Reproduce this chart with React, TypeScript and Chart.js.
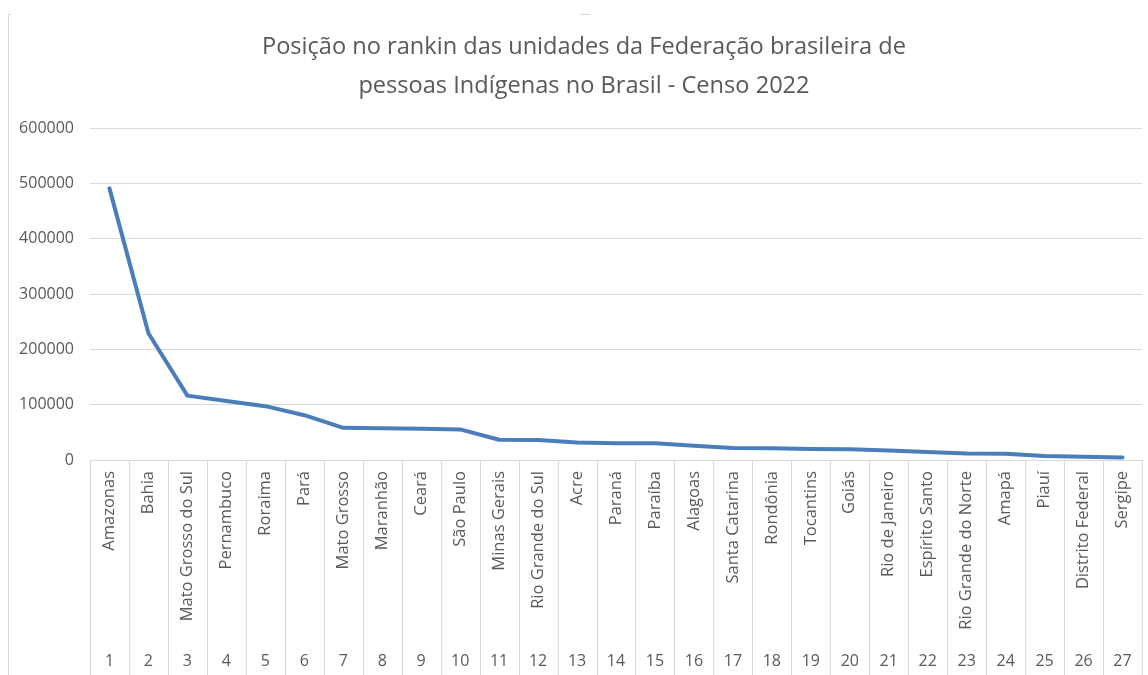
import React, { useEffect, useRef } from "react";
import { Chart, registerables } from "chart.js";

Chart.register(...registerables);

const estados = [
  "Amazonas", "Bahia", "Mato Grosso do Sul", "Pernambuco", "Roraima", "Pará",
  "Mato Grosso", "Maranhão", "Ceará", "São Paulo", "Minas Gerais",
  "Rio Grande do Sul", "Acre", "Paraná", "Paraíba", "Alagoas",
  "Santa Catarina", "Rondônia", "Tocantins", "Goiás", "Rio de Janeiro",
  "Espírito Santo", "Rio Grande do Norte", "Amapá", "Piauí",
  "Distrito Federal", "Sergipe",
];

const posicoes = [
  "1", "2", "3", "4", "5", "6", "7", "8", "9", "10", "11", "12", "13", "14",
  "15", "16", "17", "18", "19", "20", "21", "22", "23", "24", "25", "26", "27",
];

const pessoasIndigenas = [
  490854, 229103, 116346, 106646, 97320, 80974, 58231, 57214, 56353, 55295,
  36699, 36096, 31699, 30460, 30140, 25725, 21541, 21153, 20023, 19522,
  16964, 14411, 11725, 11334, 7198, 5811, 4708,
];

const tituloLinhas = [
  "Posição no rankin das unidades da Federação brasileira de",
  "pessoas Indígenas no Brasil - Censo 2022",
];

const FONT = "'Open Sans', 'DejaVu Sans', sans-serif";
const GREY_TEXT = "#595959";
const GRID = "#d9d9d9";

const decorPlugin = {
  id: "decor",
  afterDraw(chart: any) {
    const ctx = chart.ctx;
    const x = chart.scales.x;
    const area = chart.chartArea;
    ctx.save();
    ctx.strokeStyle = GRID;
    ctx.lineWidth = 1;
    const n = estados.length;
    const bounds: number[] = [];
    for (let i = 0; i <= n; i++) {
      let px;
      if (i === 0) px = area.left;
      else if (i === n) px = area.right;
      else px = (x.getPixelForValue(i - 1) + x.getPixelForValue(i)) / 2;
      bounds.push(px);
    }
    ctx.beginPath();
    for (const b of bounds) {
      const bx = Math.round(b) + 0.5;
      ctx.moveTo(bx, area.bottom);
      ctx.lineTo(bx, chart.height);
    }
    ctx.stroke();
    ctx.beginPath();
    ctx.moveTo(8.5, 14);
    ctx.lineTo(8.5, chart.height);
    ctx.moveTo(8.5, 14.5);
    ctx.lineTo(12, 14.5);
    ctx.moveTo(580, 14.5);
    ctx.lineTo(590, 14.5);
    ctx.stroke();
    ctx.fillStyle = GREY_TEXT;
    ctx.font = `23.6px ${FONT}`;
    ctx.textAlign = "center";
    ctx.textBaseline = "middle";
    ctx.fillText(tituloLinhas[0], 584, 47);
    ctx.fillText(tituloLinhas[1], 584, 86);
    ctx.restore();
  },
};

export default function App() {
  const ref = useRef<HTMLCanvasElement | null>(null);

  useEffect(() => {
    if (!ref.current) return;
    const chart = new Chart(ref.current, {
      type: "line",
      data: {
        labels: estados,
        datasets: [
          {
            data: pessoasIndigenas,
            borderColor: "#4a7ebb",
            borderWidth: 4,
            pointRadius: 0,
            tension: 0,
            borderJoinStyle: "round",
            borderCapStyle: "round",
            fill: false,
          },
        ],
      },
      options: {
        animation: false,
        responsive: false,
        maintainAspectRatio: false,
        layout: { padding: { top: 128, right: 6, left: 0, bottom: 0 } },
        plugins: {
          legend: { display: false },
          title: { display: false },
          tooltip: { enabled: false },
        },
        scales: {
          x: {
            type: "category",
            position: "bottom",
            offset: true,
            weight: 0,
            grid: { display: false, drawTicks: false },
            border: { display: false },
            ticks: {
              autoSkip: false,
              maxRotation: 90,
              minRotation: 90,
              padding: 11,
              color: GREY_TEXT,
              font: { family: FONT, size: 16.5 },
            },
            afterFit: (s: any) => {
              s.height = 185;
              s.paddingRight = 0;
            },
          },
          x2: {
            type: "category",
            position: "bottom",
            labels: posicoes,
            offset: true,
            weight: 1,
            grid: { display: false, drawTicks: false },
            border: { display: false },
            ticks: {
              autoSkip: false,
              maxRotation: 0,
              minRotation: 0,
              padding: 7,
              color: GREY_TEXT,
              font: { family: FONT, size: 16 },
            },
            afterFit: (s: any) => {
              s.height = 30;
              s.paddingRight = 0;
            },
          },
          y: {
            min: 0,
            max: 600000,
            ticks: {
              stepSize: 100000,
              padding: 16,
              color: GREY_TEXT,
              font: { family: FONT, size: 16 },
              callback: (v: any) => String(v),
            },
            grid: { color: GRID, lineWidth: 1, drawTicks: false },
            border: { display: false },
            afterFit: (s: any) => {
              s.width = 90;
            },
          },
        },
      },
      plugins: [decorPlugin],
    } as any);
    return () => chart.destroy();
  }, []);

  return (
    <div
      style={{
        position: "fixed",
        left: 0,
        top: 0,
        width: 1148,
        height: 675,
        background: "#fff",
      }}
    >
      <canvas ref={ref} width={1148} height={675} style={{ display: "block" }} />
    </div>
  );
}
